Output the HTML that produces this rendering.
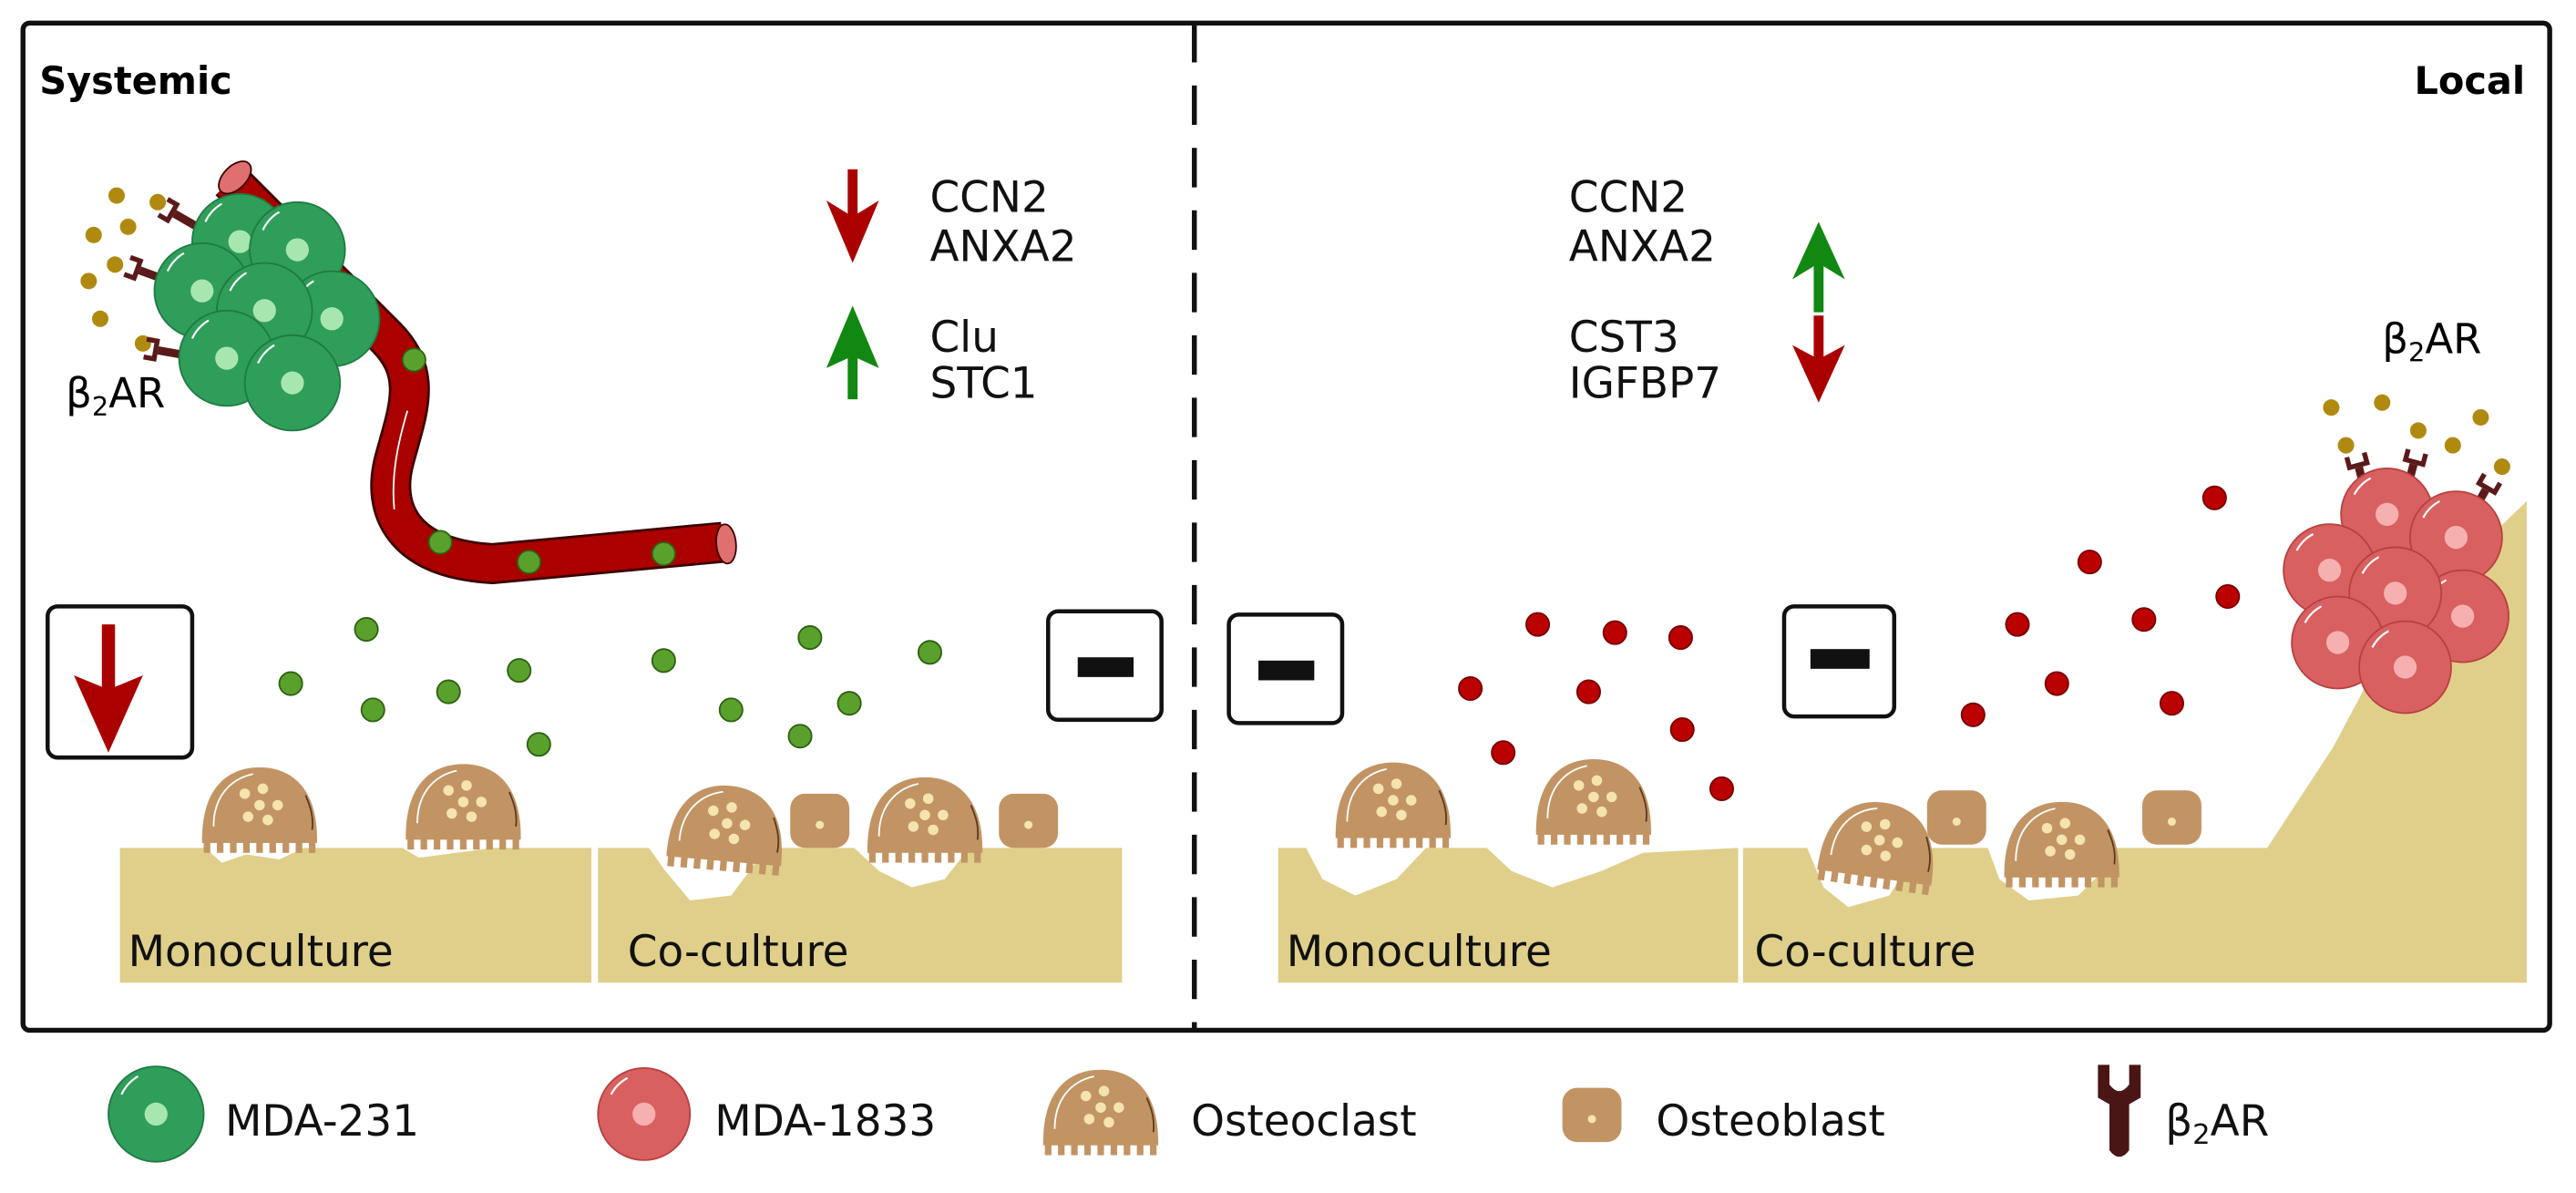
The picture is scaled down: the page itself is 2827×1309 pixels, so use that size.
<!DOCTYPE html>
<html><head><meta charset="utf-8"><style>
html,body{margin:0;padding:0;background:#fff}
svg{display:block}
text{font-family:"DejaVu Sans","Liberation Sans",sans-serif}
</style></head><body>
<svg width="2827" height="1309" viewBox="0 0 1568 726" xmlns="http://www.w3.org/2000/svg">
<defs>
<g id="oc">
<path d="M-35,-8 C-35,-40 -19,-52 0,-52 C19,-52 35,-40 35,-8 Z" fill="#c29463"/>
<rect x="-35" y="-9" width="70" height="3" fill="#c29463"/>
<g fill="#c29463">
<rect x="-34" y="-7" width="4" height="7"/><rect x="-26" y="-7" width="4" height="7"/><rect x="-18" y="-7" width="4" height="7"/><rect x="-10" y="-7" width="4" height="7"/><rect x="-2" y="-7" width="4" height="7"/><rect x="6" y="-7" width="4" height="7"/><rect x="14" y="-7" width="4" height="7"/><rect x="22" y="-7" width="4" height="7"/><rect x="30" y="-7" width="4" height="7"/>
</g>
<path d="M-28,-16 C-28,-34 -18,-45 -4,-48" stroke="#fff" stroke-width="1" fill="none"/>
<path d="M28,-35 C31,-28 33,-22 32,-14" stroke="#5a3a20" stroke-width="1" fill="none"/>
<g fill="#f5e3b0"><circle cx="-9" cy="-36" r="3.2"/><circle cx="2" cy="-39" r="3.2"/><circle cx="0" cy="-29" r="3.2"/><circle cx="11" cy="-29" r="3.2"/><circle cx="-7" cy="-22" r="3.2"/><circle cx="5" cy="-20" r="3.2"/></g>
</g>
<g id="ob">
<rect x="-18" y="-33" width="36" height="33" rx="9" fill="#c29463"/>
<circle cx="0" cy="-14" r="2.5" fill="#f5e3b0"/>
</g>
<g id="gc"><circle r="29" fill="#2e9e5a" stroke="#1f7a42" stroke-width="1"/><circle r="7" fill="#a8e6b0"/><path d="M-21,-12 A25,25 0 0 1 -11,-23" stroke="#fff" stroke-width="1.2" fill="none"/></g>
<g id="rc"><circle r="28" fill="#d96060" stroke="#b84040" stroke-width="1"/><circle r="7" fill="#f7b0b0"/><path d="M-20,-12 A24,24 0 0 1 -10,-22" stroke="#fff" stroke-width="1.2" fill="none"/></g>
<g id="rcp"><rect x="-2.5" y="-16" width="5" height="16" fill="#5a1a1a"/><path d="M-7,-24 L-7,-16 L7,-16 L7,-24 L4,-24 L4,-19 L-4,-19 L-4,-24 Z" fill="#5a1a1a"/></g>
</defs>

<rect x="14" y="14" width="1538" height="613" rx="4" fill="none" stroke="#111" stroke-width="3"/>
<line x1="727" y1="14" x2="727" y2="627" stroke="#111" stroke-width="3" stroke-dasharray="24,14"/>
<text x="24" y="57" font-size="23" font-weight="bold" fill="#000">Systemic</text>
<text x="1537" y="57" font-size="23" font-weight="bold" text-anchor="end" fill="#000">Local</text>

<!-- vessel -->
<path d="M140,110 L235,205 C258,228 248,250 240,280 C232,310 245,340 300,343 L440,330" stroke="#3a0000" stroke-width="25" fill="none"/>
<path d="M140,110 L235,205 C258,228 248,250 240,280 C232,310 245,340 300,343 L440,330" stroke="#aa0000" stroke-width="22" fill="none"/>
<ellipse cx="143" cy="108" rx="12" ry="7" transform="rotate(-45 143 108)" fill="#e07070" stroke="#3a0000" stroke-width="1"/>
<ellipse cx="442" cy="331" rx="6" ry="12" transform="rotate(-5 442 331)" fill="#e07070" stroke="#3a0000" stroke-width="1"/>
<path d="M248,250 C242,270 238,290 240,310" stroke="#fff" stroke-width="1" fill="none"/>
<g fill="#5aa02c" stroke="#2d6010" stroke-width="1"><circle cx="252" cy="219" r="7"/><circle cx="268" cy="330" r="7"/><circle cx="322" cy="342" r="7"/><circle cx="404" cy="337" r="7"/></g>

<!-- green cluster -->
<g fill="#b08a10"><circle cx="71" cy="119" r="5"/><circle cx="96" cy="123" r="5"/><circle cx="78" cy="138" r="5"/><circle cx="57" cy="143" r="5"/><circle cx="70" cy="161" r="5"/><circle cx="54" cy="171" r="5"/><circle cx="61" cy="194" r="5"/><circle cx="87" cy="209" r="5"/></g>
<use href="#rcp" transform="translate(120,138) rotate(-60)"/>
<use href="#rcp" transform="translate(100,170) rotate(-70)"/>
<use href="#rcp" transform="translate(112,216) rotate(-80)"/>
<use href="#gc" x="146" y="147"/><use href="#gc" x="181" y="152"/>
<use href="#gc" x="123" y="177"/><use href="#gc" x="202" y="194"/>
<use href="#gc" x="161" y="189"/>
<use href="#gc" x="138" y="218"/><use href="#gc" x="178" y="233"/>
<text x="40" y="248" font-size="25">β<tspan font-size="16" dy="5">2</tspan><tspan dy="-5">AR</tspan></text>

<path d="M516,103 L522,103 L522,130 L535,122 L519,160 L503,122 L516,130 Z" fill="#aa0000"/>
<path d="M516,243 L522,243 L522,218 L535,224 L519,186 L503,224 L516,218 Z" fill="#118811"/>
<g font-size="26" fill="#111"><text x="566" y="129">CCN2</text><text x="566" y="159">ANXA2</text><text x="566" y="214">Clu</text><text x="566" y="242">STC1</text></g>
<path d="M1104,190 L1110,190 L1110,162 L1123,170 L1107,135 L1091,170 L1104,162 Z" fill="#118811"/>
<path d="M1104,192 L1110,192 L1110,217 L1123,210 L1107,245 L1091,210 L1104,217 Z" fill="#aa0000"/>
<g font-size="26" fill="#111"><text x="955" y="129">CCN2</text><text x="955" y="159">ANXA2</text><text x="955" y="214">CST3</text><text x="955" y="242">IGFBP7</text></g>
<text x="1450" y="215" font-size="25">β<tspan font-size="16" dy="5">2</tspan><tspan dy="-5">AR</tspan></text>

<rect x="29" y="369" width="88" height="92" rx="6" fill="#fff" stroke="#111" stroke-width="2.5"/>
<path d="M62,380 L70,380 L70,418 L87,411 L66,458 L45,411 L62,418 Z" fill="#aa0000"/>
<rect x="638" y="372" width="69" height="66" rx="6" fill="#fff" stroke="#111" stroke-width="2.5"/><rect x="656" y="400" width="34" height="12" fill="#111"/>
<rect x="748" y="374" width="69" height="66" rx="6" fill="#fff" stroke="#111" stroke-width="2.5"/><rect x="766" y="402" width="34" height="12" fill="#111"/>
<rect x="1086" y="369" width="67" height="67" rx="6" fill="#fff" stroke="#111" stroke-width="2.5"/><rect x="1102" y="395" width="36" height="12" fill="#111"/>

<g fill="#5aa02c" stroke="#2d6010" stroke-width="1"><circle cx="223" cy="383" r="7"/><circle cx="177" cy="416" r="7"/><circle cx="227" cy="432" r="7"/><circle cx="273" cy="421" r="7"/><circle cx="316" cy="408" r="7"/><circle cx="328" cy="453" r="7"/><circle cx="404" cy="402" r="7"/><circle cx="493" cy="388" r="7"/><circle cx="566" cy="397" r="7"/><circle cx="445" cy="432" r="7"/><circle cx="517" cy="428" r="7"/><circle cx="487" cy="448" r="7"/></g>
<g fill="#bb0000" stroke="#700" stroke-width="1"><circle cx="936" cy="380" r="7"/><circle cx="983" cy="385" r="7"/><circle cx="1023" cy="388" r="7"/><circle cx="895" cy="419" r="7"/><circle cx="967" cy="421" r="7"/><circle cx="1024" cy="444" r="7"/><circle cx="915" cy="458" r="7"/><circle cx="1048" cy="480" r="7"/><circle cx="1228" cy="380" r="7"/><circle cx="1305" cy="377" r="7"/><circle cx="1201" cy="435" r="7"/><circle cx="1252" cy="416" r="7"/><circle cx="1322" cy="428" r="7"/><circle cx="1348" cy="303" r="7"/><circle cx="1272" cy="342" r="7"/><circle cx="1356" cy="363" r="7"/></g>

<path d="M73,516 L125,516 L135,525 L150,520 L170,523 L185,516 L245,516 L255,522 L285,518 L300,516 L360,516 L360,598 L73,598 Z" fill="#dfcf8a"/>
<path d="M364,516 L395,516 L405,530 L420,548 L445,545 L460,525 L475,516 L520,516 L535,530 L555,540 L575,535 L590,516 L683,516 L683,598 L364,598 Z" fill="#dfcf8a"/>
<line x1="362" y1="516" x2="362" y2="598" stroke="#fff" stroke-width="2" stroke-dasharray="7,5"/>
<path d="M778,516 L795,516 L805,535 L825,545 L850,535 L868,516 L905,516 L920,530 L945,540 L975,530 L1000,519 L1058,516 L1058,598 L778,598 Z" fill="#dfcf8a"/>
<path d="M1061,516 L1100,516 L1110,540 L1125,552 L1150,545 L1168,516 L1210,516 L1217,535 L1235,548 L1265,545 L1280,530 L1285,516 L1380,516 L1420,455 L1460,380 L1538,305 L1538,598 L1061,598 Z" fill="#dfcf8a"/>
<line x1="1059" y1="516" x2="1059" y2="598" stroke="#fff" stroke-width="2" stroke-dasharray="7,5"/>

<use href="#oc" x="158" y="519"/><use href="#oc" x="282" y="517"/>
<use href="#oc" x="440" y="530" transform="rotate(5 440 530)"/><use href="#ob" x="499" y="516"/>
<use href="#oc" x="563" y="525"/><use href="#ob" x="626" y="516"/>
<use href="#oc" x="848" y="516"/><use href="#oc" x="970" y="514"/>
<use href="#oc" x="1140" y="540" transform="rotate(8 1140 540)"/><use href="#ob" x="1191" y="514"/>
<use href="#oc" x="1255" y="540"/><use href="#ob" x="1322" y="514"/>

<g font-size="26" fill="#111"><text x="78" y="588">Monoculture</text><text x="382" y="588">Co-culture</text><text x="783" y="588">Monoculture</text><text x="1068" y="588">Co-culture</text></g>

<!-- red cluster -->
<g fill="#b08a10"><circle cx="1419" cy="248" r="5"/><circle cx="1450" cy="245" r="5"/><circle cx="1472" cy="262" r="5"/><circle cx="1428" cy="271" r="5"/><circle cx="1493" cy="271" r="5"/><circle cx="1510" cy="254" r="5"/><circle cx="1523" cy="284" r="5"/></g>
<use href="#rcp" transform="translate(1440,300) rotate(-15)"/>
<use href="#rcp" transform="translate(1465,298) rotate(15)"/>
<use href="#rcp" transform="translate(1505,312) rotate(30)"/>
<use href="#rc" x="1453" y="313"/><use href="#rc" x="1495" y="327"/>
<use href="#rc" x="1418" y="347"/><use href="#rc" x="1499" y="375"/>
<use href="#rc" x="1458" y="361"/>
<use href="#rc" x="1423" y="391"/><use href="#rc" x="1464" y="406"/>

<use href="#gc" x="95" y="678"/>
<use href="#rc" x="392" y="678"/>
<use href="#oc" x="670" y="703"/>
<use href="#ob" x="969" y="695"/>
<path d="M1277,648 L1284,648 L1284,660 Q1290,668 1296,660 L1296,648 L1303,648 L1303,668 L1296,672 L1296,700 Q1290,708 1284,700 L1284,672 L1277,668 Z" fill="#4a1515"/>
<g font-size="26" fill="#111"><text x="137" y="691">MDA-231</text><text x="435" y="691">MDA-1833</text><text x="725" y="691">Osteoclast</text><text x="1008" y="691">Osteoblast</text><text x="1318" y="691">β<tspan font-size="17" dy="5">2</tspan><tspan dy="-5">AR</tspan></text></g>
</svg>
</body></html>
